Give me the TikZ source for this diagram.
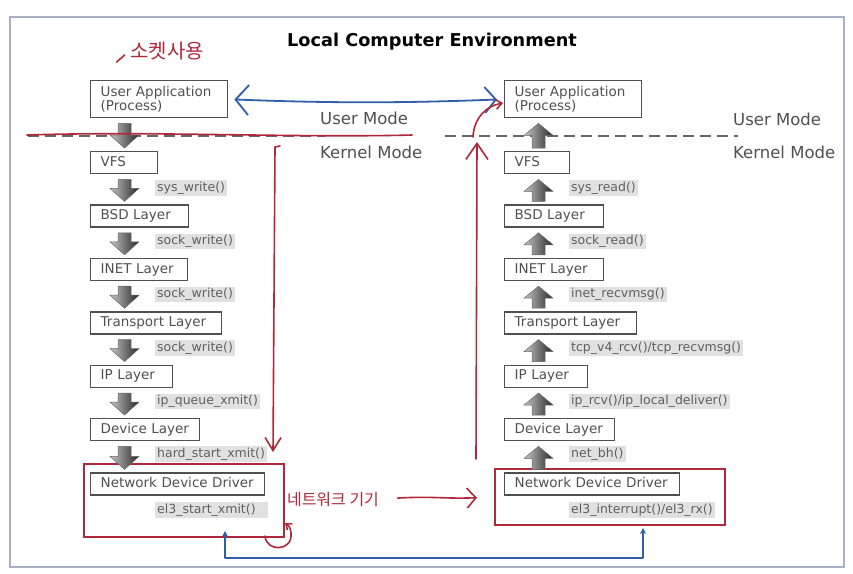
\documentclass[tikz,border=0pt]{standalone}
\usepackage{fontspec}
\setmainfont{DejaVu Sans}
\newfontfamily\hangul{Noto Sans CJK KR}
\usetikzlibrary{positioning,calc,arrows.meta}

\definecolor{boxc}{HTML}{505050}
\definecolor{lblc}{HTML}{606060}
\definecolor{lblbg}{HTML}{E1E1E1}
\definecolor{penred}{HTML}{B0283A}
\definecolor{penblue}{HTML}{2F5FA8}
\definecolor{framec}{HTML}{A9B0C6}

\begin{document}
\begin{tikzpicture}[x=1pt, y=-1pt, node distance=30pt and 0pt]
    \tikzset{layer/.style={rectangle, draw=boxc, line width=1.4pt, text=boxc, font=\fontsize{13.5}{14.5}\selectfont, inner xsep=10pt, inner ysep=0pt, minimum height=22pt, text height=9.8pt, text depth=2.6pt, align=left, anchor=north west}}
    \tikzset{fn/.style={fill=lblbg, text=lblc, font=\fontsize{12.5}{14}\selectfont, inner xsep=2pt, inner ysep=1.5pt, anchor=west}}
    \tikzset{mode/.style={text=boxc, font=\fontsize{16.5}{18}\selectfont, anchor=west, inner sep=0pt}}
    \tikzset{nic/.style={rectangle, draw=penred, line width=2pt, anchor=north west}}
    \tikzset{fat/.style={left color=gray!45, right color=black!85, draw=black!60, line width=0.5pt}}
    \tikzset{pen/.style={penred, line width=1.6pt, line cap=round, line join=round}}
    \tikzset{bluepen/.style={penblue, line width=1.8pt, line cap=round, line join=round}}

    \useasboundingbox (0,0) rectangle (853,573);
    \draw[framec, line width=1.2pt] (10,17) rectangle (844,567);

    % Title
    \node[font={\fontsize{17.7}{20}\selectfont\bfseries}] (title) at (432,42) {Local Computer Environment};

    % Mode separators
    \draw[gray!80!black, line width=1.5pt, dash pattern=on 11pt off 6pt] (28,136) -- (325,136);
    \draw[gray!80!black, line width=1.5pt, dash pattern=on 11pt off 6pt] (445,136) -- (738,136);
    \node[mode] (lum) at (320,118) {User Mode};
    \node[mode] (lkm) at (320,152) {Kernel Mode};
    \node[mode] (rum) at (733,119) {User Mode};
    \node[mode] (rkm) at (733,152) {Kernel Mode};

    % NIC frames
    \node[nic, minimum width=200pt, minimum height=73pt] (lnic) at (83,463) {};
    \node[nic, minimum width=230pt, minimum height=56pt] (rnic) at (494,468) {};

    % Sending side
    \node[layer, text width=117pt, minimum height=37pt, text height=, text depth=] (lapp) at (90,80) {User Application\\(Process)};
    \node[layer, text width=47pt] (lvfs) at (90,151) {VFS};
    \node[layer, text width=78pt, below right=of lvfs.south west] (lbsd) {BSD Layer};
    \node[layer, text width=77pt, below right=of lbsd.south west] (linet) {INET Layer};
    \node[layer, text width=111pt, below right=of linet.south west] (ltrans) {Transport Layer};
    \node[layer, text width=62pt, below right=of ltrans.south west] (lip) {IP Layer};
    \node[layer, text width=89pt, below right=of lip.south west] (ldev) {Device Layer};
    \node[layer, text width=154pt, below right=31pt and 0pt of ldev.south west] (lndd) {Network Device Driver};

    % Receiving side
    \node[layer, text width=117pt, minimum height=37pt, text height=, text depth=] (rapp) at (504,80) {User Application\\(Process)};
    \node[layer, text width=45pt] (rvfs) at (504,151) {VFS};
    \node[layer, text width=79pt, below right=of rvfs.south west] (rbsd) {BSD Layer};
    \node[layer, text width=79pt, below right=of rbsd.south west] (rinet) {INET Layer};
    \node[layer, text width=112pt, below right=of rinet.south west] (rtrans) {Transport Layer};
    \node[layer, text width=63pt, below right=of rtrans.south west] (rip) {IP Layer};
    \node[layer, text width=90pt, below right=of rip.south west] (rdev) {Device Layer};
    \node[layer, text width=155pt, below right=31pt and 0pt of rdev.south west] (rndd) {Network Device Driver};

    % Fat arrows
    \foreach \a/\b in {lapp/lvfs, lvfs/lbsd, lbsd/linet, linet/ltrans, ltrans/lip, lip/ldev, ldev/lndd}
        \shade[fat] let \p1=(\a.south west), \p2=(\b.north west) in
            (\x1+28pt,\y1-5pt) -- (\x1+41pt,\y1-5pt) -- (\x1+41pt,\y2+16pt) -- (\x1+49pt,\y2+16pt)
            -- (\x1+34.5pt,\y2+3pt) -- (\x1+20pt,\y2+16pt) -- (\x1+28pt,\y2+16pt) -- cycle;
    \foreach \a/\b in {rapp/rvfs, rvfs/rbsd, rbsd/rinet, rinet/rtrans, rtrans/rip, rip/rdev, rdev/rndd}
        \shade[fat] let \p1=(\a.south west), \p2=(\b.north west) in
            (\x1+28pt,\y2+3pt) -- (\x1+41pt,\y2+3pt) -- (\x1+41pt,\y1-17pt) -- (\x1+49pt,\y1-17pt)
            -- (\x1+34.5pt,\y1-5pt) -- (\x1+20pt,\y1-17pt) -- (\x1+28pt,\y1-17pt) -- cycle;

    % Function labels
    \node[fn] (lsys) at ($(lvfs.south west)!0.5!(lbsd.north west)+(65,-1.5)$) {sys\_write()};
    \node[fn] (lsock1) at ($(lbsd.south west)!0.5!(linet.north west)+(65,-1.5)$) {sock\_write()};
    \node[fn] (lsock2) at ($(linet.south west)!0.5!(ltrans.north west)+(65,-1.5)$) {sock\_write()};
    \node[fn] (lsock3) at ($(ltrans.south west)!0.5!(lip.north west)+(65,-1.5)$) {sock\_write()};
    \node[fn] (lqueue) at ($(lip.south west)!0.5!(ldev.north west)+(65,-1.5)$) {ip\_queue\_xmit()};
    \node[fn] (lhard) at ($(ldev.south west)!0.5!(lndd.north west)+(65,-3)$) {hard\_start\_xmit()};
    \node[fn, text width=109pt] (lel3) at ($(lndd.south west)+(65,14)$) {el3\_start\_xmit()};

    \node[fn] (rsys) at ($(rvfs.south west)!0.5!(rbsd.north west)+(65,-1.5)$) {sys\_read()};
    \node[fn] (rsock) at ($(rbsd.south west)!0.5!(rinet.north west)+(65,-1.5)$) {sock\_read()};
    \node[fn] (rinetf) at ($(rinet.south west)!0.5!(rtrans.north west)+(65,-1.5)$) {inet\_recvmsg()};
    \node[fn] (rtcp) at ($(rtrans.south west)!0.5!(rip.north west)+(65,-1.5)$) {tcp\_v4\_rcv()/tcp\_recvmsg()};
    \node[fn] (rrcv) at ($(rip.south west)!0.5!(rdev.north west)+(65,-1.5)$) {ip\_rcv()/ip\_local\_deliver()};
    \node[fn] (rbh) at ($(rdev.south west)!0.5!(rndd.north west)+(65,-3)$) {net\_bh()};
    \node[fn] (rel3) at ($(rndd.south west)+(65,14)$) {el3\_interrupt()/el3\_rx()};

    % Blue connections
    \draw[bluepen, {Straight Barb[length=13pt,width=30pt]}-{Straight Barb[length=11pt,width=26pt]}, shorten <=6pt, shorten >=7pt]
        (lapp.east) .. controls ($(lapp.east)+(100,4)$) and ($(rapp.west)+(-100,4)$) .. (rapp.west);
    \coordinate (lwire) at (225,531);
    \coordinate (rwire) at (643,528);
    \draw[bluepen, {Stealth[length=6pt,width=6pt]}-{Stealth[length=6pt,width=6pt]}] (lwire) -- ++(0,27) -| (rwire);

    % Red notes
    \node[text=penred, font={\hangul\fontsize{20}{22}\selectfont}] (socknote) at (167,51) {소켓사용};
    \draw[pen] ($(socknote.west)+(-10,11)$) -- ++(8,-7);
    \draw[pen] (27,135) .. controls (150,131) and (300,138) .. (412,135);
    \draw[pen, -{Straight Barb[length=13pt,width=16pt]}] (280,146) -- (275,147) -- (273,452);
    \draw[pen, -{Straight Barb[length=5pt,width=8pt]}] (265,536) .. controls (266,552) and (293,552) .. (291,533) .. controls (290,527) .. (285,523);
    \node[text=penred, font={\hangul\fontsize{16}{18}\selectfont}] (devnote) at (333,499) {네트워크 기기};
    \draw[pen, -{Straight Barb[length=9pt,width=20pt]}, shorten <=15pt, shorten >=17pt] (devnote.east) .. controls ($(devnote.east)+(50,-3)$) and ($(rnic.west)+(-50,2)$) .. (rnic.west);
    \draw[pen, -{Straight Barb[length=16pt,width=22pt]}] (476,459) -- (477,142);
    \draw[pen, -{Straight Barb[length=6pt,width=10pt]}] (473,137) .. controls (474,118) and (486,106) .. (503,103);
\end{tikzpicture}
\end{document}
